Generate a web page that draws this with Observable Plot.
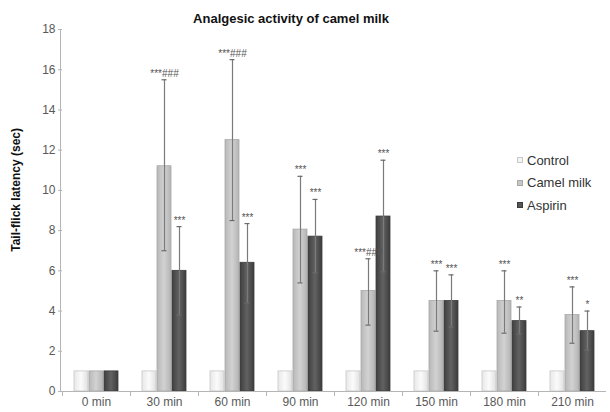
<!DOCTYPE html>
<html>
<head>
<meta charset="utf-8">
<script src="https://cdn.jsdelivr.net/npm/d3@7"></script>
<script src="https://cdn.jsdelivr.net/npm/@observablehq/plot@0.6"></script>
<style>
  body { margin: 0; background: #fff; font-family: "Liberation Sans", Arial, sans-serif; }
  #wrap { position: relative; width: 610px; height: 412px; }
  #title { position: absolute; top: 11px; left: 0; width: 582px; text-align: center;
           font-weight: bold; font-size: 13px; color: #111; }
  #legend { position: absolute; left: 517px; top: 149px; font-size: 13px; color: #333; }
  #legend div { height: 22.5px; display: flex; align-items: center; }
  #legend span.sw { display: inline-block; width: 6px; height: 6px; margin-right: 4px; border: 1px solid #999; box-sizing: border-box; }
</style>
</head>
<body>
<div id="wrap">
  <div id="title">Analgesic activity of camel milk</div>
  <div id="legend"></div>
</div>
<script>
const times = ["0 min", "30 min", "60 min", "90 min", "120 min", "150 min", "180 min", "210 min"];
const series = ["Control", "Camel milk", "Aspirin"];
const controlMean = [1, 1, 1, 1, 1, 1, 1, 1];
const controlLo   = [1, 1, 1, 1, 1, 1, 1, 1];
const controlHi   = [1, 1, 1, 1, 1, 1, 1, 1];
const camelMean = [1, 11.2, 12.5, 8.05, 5.0, 4.5, 4.5, 3.8];
const camelLo   = [1, 7.0, 8.5, 5.4, 3.3, 3.0, 2.9, 2.4];
const camelHi   = [1, 15.5, 16.5, 10.7, 6.6, 6.0, 6.0, 5.2];
const aspirinMean = [1, 6.0, 6.4, 7.7, 8.7, 4.5, 3.5, 3.0];
const aspirinLo   = [1, 3.8, 4.4, 5.9, 5.95, 3.2, 2.85, 2.05];
const aspirinHi   = [1, 8.2, 8.35, 9.55, 11.5, 5.8, 4.2, 4.0];
const controlSig = ["", "", "", "", "", "", "", ""];
const camelSig   = ["", "***###", "***###", "***", "***###", "***", "***", "***"];
const aspirinSig = ["", "***", "***", "***", "***", "***", "**", "*"];
const yTicks = [0, 2, 4, 6, 8, 10, 12, 14, 16, 18];

const seriesData = [
  [controlMean, controlLo, controlHi, controlSig],
  [camelMean, camelLo, camelHi, camelSig],
  [aspirinMean, aspirinLo, aspirinHi, aspirinSig]
];
const data = [];
times.forEach((t, i) => {
  series.forEach((s, j) => {
    const [m, lo, hi, sig] = seriesData[j];
    data.push({time: t, series: s, value: m[i], lo: lo[i], hi: hi[i], sig: sig[i]});
  });
});

const fills = ["url(#gControl)", "url(#gCamel)", "url(#gAspirin)"];
const strokes = ["#c8c8c8", "#a8a8a8", "#3c3c3c"];
const withErr = data.filter(d => d.hi > d.lo);

const chart = Plot.plot({
  width: 610,
  height: 412,
  marginLeft: 60,
  marginRight: 2,
  marginTop: 29,
  marginBottom: 21,
  style: {fontFamily: "'Liberation Sans', Arial, sans-serif", background: "transparent"},
  fx: {domain: times, padding: 0, label: null, axis: null},
  x: {domain: series, paddingInner: 0.05, paddingOuter: 0.73, axis: null},
  y: {domain: [0, 18], label: null, axis: null},
  color: {domain: series, range: fills},
  marks: [
    Plot.barY(data, {fx: "time", x: "series", y: "value", fill: "series",
      stroke: d => strokes[series.indexOf(d.series)], strokeWidth: 0.8}),
    Plot.ruleX(withErr, {fx: "time", x: "series", y1: "lo", y2: "hi", stroke: "#7a7a7a", strokeWidth: 1.2}),
    Plot.tickY(withErr, {fx: "time", x: "series", y: "hi", stroke: "#6a6a6a", strokeWidth: 1.2, inset: 4.5}),
    Plot.tickY(withErr, {fx: "time", x: "series", y: "lo", stroke: "#6a6a6a", strokeWidth: 1.2, inset: 4.5}),
    Plot.text(data.filter(d => d.sig), {fx: "time", x: "series", y: "hi", text: "sig",
      lineAnchor: "bottom", dy: -3, fontSize: 10, fill: "#555"}),
    Plot.ruleY([0], {stroke: "#b5b5b5", strokeWidth: 1}),
    Plot.axisY({ticks: yTicks, tickSize: 4, tickPadding: 3, stroke: "#b5b5b5", fill: "#595959", fontSize: 12,
      label: null}),
    Plot.axisFx({anchor: "bottom", tickSize: 0, tickPadding: 6, fill: "#595959", fontSize: 12, label: null})
  ]
});

// gradient defs for bar fills
const svg = d3.select(chart);
const defs = svg.insert("defs", ":first-child");
function grad(id, stops) {
  const g = defs.append("linearGradient").attr("id", id).attr("x1", "0").attr("x2", "1").attr("y1", "0").attr("y2", "0");
  stops.forEach(([o, c]) => g.append("stop").attr("offset", o).attr("stop-color", c));
}
grad("gControl", [[0, "#e8e8e8"], [0.5, "#fbfbfb"], [1, "#e0e0e0"]]);
grad("gCamel", [[0, "#b8b8b8"], [0.5, "#d2d2d2"], [1, "#b4b4b4"]]);
grad("gAspirin", [[0, "#3f3f3f"], [0.5, "#626262"], [1, "#3c3c3c"]]);

// y axis line and x separator ticks derived from the plot's scales
const fx = chart.scale("fx");
const y = chart.scale("y");
const y0 = y.apply(0);
const g = svg.append("g").attr("stroke", "#b5b5b5");
g.append("line").attr("x1", 60.5).attr("x2", 60.5).attr("y1", y.apply(18)).attr("y2", y0);
times.forEach(t => {
  const xl = fx.apply(t);
  g.append("line").attr("x1", xl + 0.5).attr("x2", xl + 0.5).attr("y1", y0).attr("y2", y0 + 5);
});

// y axis title
svg.append("text")
  .attr("transform", `translate(17,${y.apply(10)}) rotate(-90)`)
  .attr("text-anchor", "middle").attr("dominant-baseline", "middle")
  .attr("font-weight", "bold").attr("font-size", 12).attr("fill", "#111")
  .text("Tail-flick latency (sec)");

document.getElementById("wrap").prepend(chart);

// legend
const swatchColors = ["#f4f4f4", "#c6c6c6", "#555555"];
const legend = d3.select("#legend");
series.forEach((s, i) => {
  const row = legend.append("div");
  row.append("span").attr("class", "sw").style("background", swatchColors[i]).style("border-color", strokes[i]);
  row.append("span").text(s);
});
</script>
</body>
</html>
